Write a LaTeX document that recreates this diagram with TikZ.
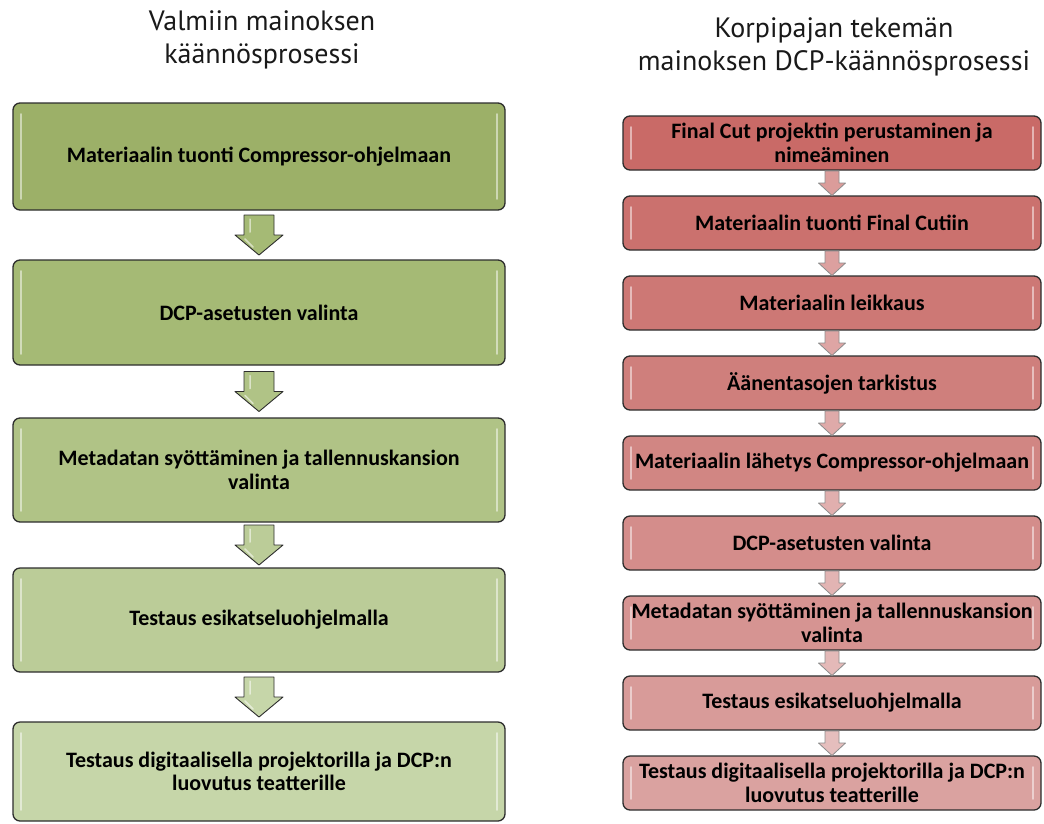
\documentclass[tikz,border=0pt]{standalone}
\usepackage{fontspec}
\setmainfont{Carlito}
\newfontfamily\titlefont{PT Sans}
\usetikzlibrary{calc}

% left column fills (dark to light green)
\definecolor{gA}{RGB}{156,176,104}
\definecolor{gB}{RGB}{165,186,117}
\definecolor{gC}{RGB}{176,195,134}
\definecolor{gD}{RGB}{187,204,152}
\definecolor{gE}{RGB}{198,214,169}
% right column fills (dark to light red)
\definecolor{rA}{RGB}{201,106,103}
\definecolor{rZ}{RGB}{218,162,160}
\colorlet{rB}{rZ!12.5!rA}
\colorlet{rC}{rZ!25!rA}
\colorlet{rD}{rZ!37.5!rA}
\colorlet{rE}{rZ!50!rA}
\colorlet{rF}{rZ!62.5!rA}
\colorlet{rG}{rZ!75!rA}
\colorlet{rH}{rZ!87.5!rA}
\definecolor{outline}{RGB}{45,45,45}
\definecolor{titletext}{RGB}{25,25,25}

\begin{document}
\begin{tikzpicture}[x=1pt,y=-1pt,
  stepbox/.style={draw=outline, line width=1.3pt, rounded corners=7pt,
    inner sep=0pt, align=center,
    font=\fontsize{22}{23.5}\selectfont\bfseries,
    path picture={
      \draw[white, opacity=0.5, line width=1.8pt, line cap=round]
        ([xshift=8pt,yshift=-11pt]path picture bounding box.north west) --
        ([xshift=8pt,yshift=11pt]path picture bounding box.south west);
      \draw[white, opacity=0.5, line width=1.8pt, line cap=round]
        ([xshift=-8pt,yshift=-11pt]path picture bounding box.north east) --
        ([xshift=-8pt,yshift=11pt]path picture bounding box.south east);
    }},
  leftbox/.style={stepbox, minimum width=492pt},
  rightbox/.style={stepbox, minimum width=418pt, minimum height=54pt},
  titletxt/.style={align=center, text=titletext,
    font=\titlefont\fontsize{28}{33.5}\selectfont},
  pics/bigarrow/.style={code={
    \filldraw[fill=#1, draw=outline, line width=0.9pt, line join=round]
      (-15,-20) -- (15,-20) -- (15,0) -- (24,0) -- (0,20) -- (-24,0) -- (-15,0) -- cycle;
    \draw[white, opacity=0.55, line width=1.5pt, line cap=round]
      (-9,-16) -- (-9,-3) (-14,4) -- (-6,12);
  }},
  pics/smallarrow/.style={code={
    \filldraw[fill=#1, draw=black!45, line width=0.8pt, line join=round]
      (-7,-12) -- (7,-12) -- (7,0) -- (13.5,0) -- (0,12.5) -- (-13.5,0) -- (-7,0) -- cycle;
  }}
]
\useasboundingbox (0,0) rectangle (1044,823);

% titles
\node[titletxt] (tl) at (262,40) {Valmiin mainoksen\\käännösprosessi};
\node[titletxt] (tr) at (834,47) {Korpipajan tekemän\\mainoksen DCP-käännösprosessi};

% left column
\node[leftbox, fill=gA, minimum height=107pt] (L1) at (259,156.5) {Materiaalin tuonti Compressor-ohjelmaan};
\node[leftbox, fill=gB, minimum height=105pt] (L2) at (259,312.5) {DCP-asetusten valinta};
\node[leftbox, fill=gC, minimum height=104pt] (L3) at (259,470) {Metadatan syöttäminen ja tallennuskansion\\valinta};
\node[leftbox, fill=gD, minimum height=104pt] (L4) at (259,620) {Testaus esikatseluohjelmalla};
\node[leftbox, fill=gE, minimum height=99pt] (L5) at (259,771.5) {Testaus digitaalisella projektorilla ja DCP:n\\luovutus teatterille};

\pic at ($(L1.south)!0.5!(L2.north)$) {bigarrow=gB};
\pic at ($(L2.south)!0.5!(L3.north)$) {bigarrow=gC};
\pic at ($(L3.south)!0.5!(L4.north)$) {bigarrow=gD};
\pic at ($(L4.south)!0.5!(L5.north)$) {bigarrow=gE};

% right column
\node[rightbox, fill=rA] (R1) at (832,143) {Final Cut projektin perustaminen ja\\nimeäminen};
\node[rightbox, fill=rB] (R2) at (832,223) {Materiaalin tuonti Final Cutiin};
\node[rightbox, fill=rC] (R3) at (832,303) {Materiaalin leikkaus};
\node[rightbox, fill=rD] (R4) at (832,383) {Äänentasojen tarkistus};
\node[rightbox, fill=rE] (R5) at (832,463) {Materiaalin lähetys Compressor-ohjelmaan};
\node[rightbox, fill=rF] (R6) at (832,543) {DCP-asetusten valinta};
\node[rightbox, fill=rG] (R7) at (832,623) {Metadatan syöttäminen ja tallennuskansion\\valinta};
\node[rightbox, fill=rH] (R8) at (832,703) {Testaus esikatseluohjelmalla};
\node[rightbox, fill=rZ] (R9) at (832,783) {Testaus digitaalisella projektorilla ja DCP:n\\luovutus teatterille};

\foreach \a/\b/\c in {R1/R2/rB!70!white, R2/R3/rC!70!white, R3/R4/rD!70!white,
                      R4/R5/rE!70!white, R5/R6/rF!70!white, R6/R7/rG!70!white,
                      R7/R8/rH!70!white, R8/R9/rZ!70!white}
  \pic at ($(\a.south)!0.5!(\b.north)$) {smallarrow=\c};
\end{tikzpicture}
\end{document}
